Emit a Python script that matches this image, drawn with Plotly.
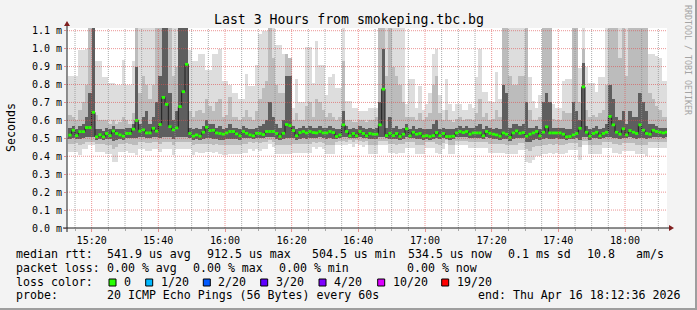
import plotly.graph_objects as go
import pandas as pd

# ---------------- data (values in milliseconds) ----------------
first_step = "2026-04-16 15:13:00"
range_start = "2026-04-16 15:12:36"
range_end = "2026-04-16 18:12:36"

med = [0.518, 0.545, 0.515, 0.537, 0.537, 0.56, 0.56, 0.645, 0.508, 0.52,
       0.508, 0.527, 0.515, 0.541, 0.527, 0.519, 0.512, 0.527, 0.527, 0.551,
       0.60, 0.54, 0.547, 0.53, 0.53, 0.556, 0.54, 0.577, 0.728, 0.689,
       0.565, 0.547, 0.558, 0.677, 0.76, 0.9125, 0.527, 0.512, 0.519, 0.512,
       0.534, 0.562, 0.543, 0.545, 0.53, 0.527, 0.523, 0.53, 0.538, 0.538,
       0.525, 0.514, 0.538, 0.528, 0.519, 0.514, 0.528, 0.527, 0.521, 0.538,
       0.538, 0.538, 0.527, 0.51, 0.528, 0.577, 0.571, 0.543, 0.514, 0.532,
       0.538, 0.53, 0.538, 0.532, 0.53, 0.538, 0.53, 0.53, 0.538, 0.532,
       0.51, 0.519, 0.575, 0.538, 0.514, 0.527, 0.514, 0.538, 0.527, 0.514,
       0.527, 0.523, 0.523, 0.575, 0.774, 0.515, 0.528, 0.515, 0.527, 0.51,
       0.523, 0.553, 0.514, 0.534, 0.523, 0.527, 0.512, 0.515, 0.51, 0.515,
       0.532, 0.515, 0.527, 0.51, 0.51, 0.512, 0.53, 0.538, 0.532, 0.538,
       0.523, 0.53, 0.53, 0.53, 0.514, 0.538, 0.528, 0.523, 0.519, 0.512,
       0.53, 0.523, 0.5045, 0.53, 0.541, 0.528, 0.532, 0.512, 0.523, 0.53,
       0.538, 0.514, 0.534, 0.564, 0.53, 0.53, 0.53, 0.53, 0.523, 0.508,
       0.51, 0.519, 0.527, 0.556, 0.787, 0.534, 0.512, 0.527, 0.534, 0.514,
       0.527, 0.534, 0.622, 0.575, 0.534, 0.523, 0.553, 0.519, 0.543, 0.534,
       0.527, 0.575, 0.545, 0.527, 0.523, 0.545, 0.538, 0.534, 0.53, 0.5345]

# outer smoke band (fastest / slowest ping)
hi = [0.85, 0.85, 0.85, 0.99, 0.99, 1.0, 1.2, 1.2, 0.93, 0.93,
      0.84, 0.84, 0.81, 0.81, 0.80, 0.80, 0.935, 0.80, 0.80, 0.93,
      1.2, 1.2, 1.2, 1.2, 1.2, 1.2, 1.2, 1.2, 1.2, 1.2,
      1.2, 1.2, 1.2, 1.2, 1.2, 1.2, 0.99, 0.93, 0.93, 0.97,
      0.97, 0.88, 0.88, 0.97, 0.97, 1.0, 0.82, 0.82, 0.80, 0.75,
      0.75, 0.72, 0.72, 0.86, 0.79, 0.79, 0.91, 1.08, 1.1, 1.1,
      1.2, 1.2, 1.02, 1.02, 0.97, 0.97, 0.95, 0.67, 0.83, 0.70,
      0.70, 1.01, 1.01, 0.81, 1.04, 0.91, 0.91, 0.74, 0.84, 0.86,
      0.78, 0.78, 1.2, 0.71, 0.71, 0.67, 0.67, 0.65, 0.65, 0.65,
      0.67, 0.67, 0.67, 1.2, 1.2, 1.2, 1.2, 1.2, 1.2, 1.2,
      1.2, 0.69, 0.83, 0.83, 0.67, 0.79, 0.66, 0.69, 0.75, 0.97,
      1.0, 0.74, 0.66, 0.83, 0.69, 0.65, 0.69, 0.69, 0.66, 0.66,
      0.69, 0.67, 0.84, 1.0, 0.76, 0.76, 0.71, 0.70, 0.87, 0.72,
      1.2, 1.2, 1.2, 1.2, 1.2, 1.2, 1.2, 1.2, 0.84, 0.71,
      0.67, 0.74, 1.2, 1.2, 1.2, 0.69, 0.67, 0.67, 0.82, 0.83,
      0.83, 1.2, 1.2, 0.89, 1.2, 0.90, 0.81, 0.81, 0.76, 0.84,
      0.84, 1.2, 1.2, 1.2, 1.2, 1.2, 1.2, 1.2, 1.2, 1.2,
      1.2, 1.2, 1.2, 1.2, 0.97, 0.97, 0.96, 0.95, 0.82, 0.82]

lo = [0.425, 0.425, 0.425, 0.405, 0.44, 0.44, 0.46, 0.46, 0.425, 0.425,
      0.425, 0.415, 0.415, 0.37, 0.37, 0.425, 0.425, 0.43, 0.42, 0.42,
      0.405, 0.44, 0.44, 0.43, 0.43, 0.44, 0.44, 0.425, 0.44, 0.44,
      0.44, 0.405, 0.44, 0.44, 0.44, 0.44, 0.44, 0.405, 0.425, 0.42,
      0.42, 0.425, 0.425, 0.42, 0.425, 0.415, 0.405, 0.405, 0.415, 0.41,
      0.415, 0.415, 0.42, 0.42, 0.44, 0.43, 0.44, 0.43, 0.44, 0.44,
      0.47, 0.45, 0.41, 0.41, 0.41, 0.41, 0.41, 0.42, 0.42, 0.42,
      0.42, 0.42, 0.42, 0.45, 0.44, 0.45, 0.44, 0.41, 0.41, 0.41,
      0.46, 0.46, 0.46, 0.46, 0.47, 0.45, 0.47, 0.46, 0.45, 0.46,
      0.41, 0.41, 0.41, 0.46, 0.46, 0.46, 0.42, 0.42, 0.41, 0.42,
      0.42, 0.445, 0.445, 0.445, 0.41, 0.41, 0.41, 0.445, 0.445, 0.445,
      0.42, 0.41, 0.44, 0.47, 0.41, 0.41, 0.46, 0.46, 0.46, 0.46,
      0.445, 0.445, 0.445, 0.445, 0.445, 0.445, 0.42, 0.42, 0.42, 0.42,
      0.42, 0.41, 0.41, 0.41, 0.41, 0.435, 0.435, 0.37, 0.36, 0.38,
      0.40, 0.40, 0.415, 0.41, 0.42, 0.41, 0.42, 0.41, 0.415, 0.42,
      0.435, 0.435, 0.435, 0.38, 0.465, 0.465, 0.41, 0.41, 0.41, 0.41,
      0.445, 0.445, 0.445, 0.42, 0.42, 0.415, 0.43, 0.43, 0.43, 0.43,
      0.41, 0.41, 0.41, 0.40, 0.445, 0.445, 0.445, 0.445, 0.445, 0.445]

# middle smoke band
mhi = [0.63, 0.62, 0.60, 0.66, 0.70, 0.80, 1.2, 1.2, 0.63, 0.60,
       0.60, 0.60, 0.58, 0.60, 0.58, 0.59, 0.62, 0.60, 0.58, 0.64,
       1.2, 0.75, 0.85, 0.80, 0.72, 0.80, 1.2, 1.2, 1.2, 1.2,
       1.2, 0.85, 0.90, 1.2, 1.2, 1.2, 0.65, 0.62, 0.65, 0.66,
       0.64, 0.72, 0.68, 0.65, 0.70, 0.72, 0.62, 0.63, 0.73, 0.62,
       0.62, 0.60, 0.62, 0.66, 0.62, 0.60, 0.65, 0.72, 0.78, 0.82,
       1.2, 0.95, 0.80, 0.75, 0.75, 0.97, 0.95, 0.60, 0.64, 0.60,
       0.60, 0.68, 0.70, 0.62, 0.72, 0.70, 0.66, 0.62, 0.64, 0.62,
       0.60, 0.62, 0.93, 0.60, 0.60, 0.59, 0.59, 0.60, 0.60, 0.59,
       0.60, 0.60, 0.62, 1.2, 1.2, 0.85, 1.2, 0.90, 0.85, 0.80,
       0.70, 0.62, 0.62, 0.62, 0.60, 0.64, 0.60, 0.62, 0.64, 0.80,
       0.85, 0.64, 0.60, 0.66, 0.60, 0.59, 0.61, 0.62, 0.60, 0.61,
       0.61, 0.60, 0.64, 0.72, 0.62, 0.64, 0.60, 0.61, 0.66, 0.62,
       1.2, 1.2, 0.85, 0.80, 0.80, 0.85, 0.85, 1.2, 0.66, 0.60,
       0.60, 0.62, 1.2, 1.2, 1.2, 0.61, 0.60, 0.60, 0.65, 0.64,
       0.64, 1.2, 1.2, 0.70, 1.0, 0.66, 0.62, 0.63, 0.62, 0.64,
       0.66, 0.80, 1.2, 1.2, 1.2, 0.95, 1.2, 0.85, 1.2, 1.2,
       1.2, 1.2, 1.2, 1.2, 0.75, 0.72, 0.68, 0.66, 0.62, 0.62]

mlo = [0.47, 0.47, 0.475, 0.46, 0.47, 0.48, 0.48, 0.48, 0.47, 0.47,
       0.47, 0.465, 0.465, 0.44, 0.45, 0.47, 0.47, 0.475, 0.47, 0.465,
       0.46, 0.48, 0.48, 0.475, 0.475, 0.48, 0.48, 0.47, 0.48, 0.48,
       0.48, 0.46, 0.48, 0.48, 0.48, 0.48, 0.48, 0.46, 0.47, 0.47,
       0.47, 0.47, 0.47, 0.465, 0.47, 0.46, 0.46, 0.46, 0.465, 0.46,
       0.465, 0.465, 0.47, 0.47, 0.48, 0.475, 0.48, 0.475, 0.48, 0.48,
       0.49, 0.48, 0.465, 0.46, 0.465, 0.46, 0.465, 0.47, 0.47, 0.47,
       0.47, 0.47, 0.47, 0.48, 0.475, 0.48, 0.475, 0.465, 0.465, 0.465,
       0.48, 0.485, 0.485, 0.48, 0.49, 0.48, 0.49, 0.485, 0.48, 0.485,
       0.465, 0.465, 0.465, 0.485, 0.485, 0.485, 0.47, 0.47, 0.465, 0.47,
       0.47, 0.48, 0.48, 0.48, 0.465, 0.465, 0.465, 0.48, 0.48, 0.48,
       0.47, 0.465, 0.475, 0.49, 0.465, 0.465, 0.485, 0.485, 0.485, 0.485,
       0.48, 0.48, 0.48, 0.48, 0.48, 0.48, 0.47, 0.47, 0.47, 0.47,
       0.47, 0.465, 0.465, 0.465, 0.465, 0.475, 0.475, 0.44, 0.43, 0.45,
       0.455, 0.455, 0.465, 0.46, 0.47, 0.465, 0.47, 0.465, 0.465, 0.47,
       0.475, 0.475, 0.475, 0.45, 0.485, 0.485, 0.465, 0.465, 0.465, 0.465,
       0.48, 0.48, 0.48, 0.47, 0.47, 0.465, 0.475, 0.475, 0.475, 0.475,
       0.465, 0.465, 0.465, 0.46, 0.48, 0.48, 0.48, 0.48, 0.48, 0.48]

# inner (darkest) smoke band around the median
dhi = [0.56, 0.57, 0.55, 0.57, 0.58, 0.62, 0.75, 1.2, 0.55, 0.55,
       0.54, 0.56, 0.55, 0.57, 0.55, 0.55, 0.55, 0.56, 0.56, 0.58,
       0.90, 0.58, 0.62, 0.65, 0.58, 0.62, 0.70, 0.85, 1.2, 1.2,
       0.75, 0.60, 0.65, 1.2, 1.2, 1.2, 0.56, 0.55, 0.56, 0.55,
       0.57, 0.60, 0.58, 0.58, 0.56, 0.57, 0.55, 0.56, 0.58, 0.56,
       0.56, 0.55, 0.57, 0.56, 0.55, 0.55, 0.56, 0.57, 0.58, 0.60,
       0.70, 0.62, 0.58, 0.56, 0.60, 0.85, 0.85, 0.57, 0.55, 0.56,
       0.57, 0.56, 0.57, 0.56, 0.56, 0.57, 0.56, 0.56, 0.57, 0.56,
       0.55, 0.55, 0.65, 0.57, 0.55, 0.56, 0.55, 0.57, 0.56, 0.55,
       0.56, 0.55, 0.56, 0.70, 1.0, 0.56, 0.62, 0.56, 0.57, 0.55,
       0.56, 0.58, 0.55, 0.57, 0.55, 0.56, 0.55, 0.55, 0.55, 0.58,
       0.60, 0.55, 0.56, 0.55, 0.55, 0.55, 0.56, 0.57, 0.56, 0.57,
       0.56, 0.56, 0.57, 0.58, 0.55, 0.57, 0.56, 0.55, 0.56, 0.55,
       0.80, 0.75, 0.56, 0.58, 0.58, 0.57, 0.58, 0.70, 0.56, 0.56,
       0.57, 0.55, 0.70, 0.75, 0.70, 0.56, 0.56, 0.56, 0.56, 0.55,
       0.55, 0.70, 0.65, 0.60, 0.92, 0.57, 0.55, 0.56, 0.57, 0.55,
       0.56, 0.58, 0.80, 0.72, 0.62, 0.60, 0.65, 0.58, 0.65, 0.62,
       0.62, 0.75, 0.70, 0.65, 0.58, 0.58, 0.57, 0.56, 0.56, 0.56]

dlo = [0.495, 0.50, 0.495, 0.495, 0.50, 0.505, 0.505, 0.505, 0.49, 0.495,
       0.49, 0.495, 0.495, 0.485, 0.49, 0.495, 0.49, 0.50, 0.50, 0.50,
       0.50, 0.505, 0.505, 0.50, 0.50, 0.505, 0.505, 0.50, 0.505, 0.505,
       0.505, 0.495, 0.505, 0.505, 0.505, 0.505, 0.50, 0.49, 0.495, 0.49,
       0.495, 0.50, 0.50, 0.495, 0.495, 0.49, 0.49, 0.495, 0.495, 0.495,
       0.495, 0.49, 0.50, 0.50, 0.50, 0.495, 0.50, 0.50, 0.50, 0.505,
       0.51, 0.505, 0.495, 0.49, 0.495, 0.50, 0.50, 0.50, 0.49, 0.495,
       0.50, 0.495, 0.50, 0.50, 0.50, 0.505, 0.50, 0.495, 0.50, 0.495,
       0.495, 0.50, 0.505, 0.505, 0.50, 0.50, 0.50, 0.505, 0.50, 0.50,
       0.495, 0.495, 0.495, 0.505, 0.505, 0.50, 0.495, 0.495, 0.495, 0.49,
       0.495, 0.505, 0.50, 0.50, 0.495, 0.495, 0.49, 0.495, 0.49, 0.495,
       0.50, 0.495, 0.50, 0.495, 0.49, 0.495, 0.505, 0.505, 0.505, 0.505,
       0.50, 0.50, 0.50, 0.50, 0.495, 0.505, 0.50, 0.495, 0.495, 0.49,
       0.495, 0.495, 0.485, 0.495, 0.50, 0.50, 0.50, 0.48, 0.48, 0.49,
       0.495, 0.49, 0.495, 0.50, 0.495, 0.495, 0.50, 0.495, 0.495, 0.49,
       0.495, 0.495, 0.50, 0.49, 0.505, 0.505, 0.49, 0.50, 0.50, 0.495,
       0.50, 0.505, 0.505, 0.50, 0.50, 0.495, 0.50, 0.50, 0.505, 0.50,
       0.495, 0.50, 0.50, 0.495, 0.50, 0.505, 0.505, 0.505, 0.50, 0.505]

x_tick_times = ["15:20", "15:40", "16:00", "16:20", "16:40", "17:00", "17:20", "17:40", "18:00"]
y_tick_values = [0.0, 0.1, 0.2, 0.3, 0.4, 0.5, 0.6, 0.7, 0.8, 0.9, 1.0, 1.1]
y_tick_labels = ["0.0 m", "0.1 m", "0.2 m", "0.3 m", "0.4 m", "0.5 m", "0.6 m",
                 "0.7 m", "0.8 m", "0.9 m", "1.0 m", "1.1 m"]
loss_labels = ["0", "1/20", "2/20", "3/20", "4/20", "10/20", "19/20"]
loss_colors = ["#26ff00", "#00b8ff", "#0059ff", "#5e00ff", "#7e00ff", "#dd00ff", "#ff0000"]

title_text = "Last 3 Hours from smokeping.tbc.bg"
stat_rtt = ["541.9 us avg", "912.5 us max", "504.5 us min", "534.5 us now",
            "0.1 ms sd", "10.8", "am/s"]
stat_loss = ["0.00 % avg", "0.00 % max", "0.00 % min", "0.00 % now"]
probe_text = "20 ICMP Echo Pings (56 Bytes) every 60s"
end_text = "end: Thu Apr 16 18:12:36 2026"

# ---------------- geometry / style ----------------
W, H = 697, 310
L, T, PW, PH = 67, 28, 600, 200
YMAX = 1.115
MONO = "DejaVu Sans Mono"
GRID = "rgba(143,143,143,0.75)"
MGRID = "rgba(222,79,79,0.6)"
ARROW = "#801f1f"
AXIS = "#1f1f1f"


def px(x):
    return (x - L) / PW


def py(y):
    return (T + PH - y) / PH


day = "2026-04-16 "
t0 = pd.Timestamp(first_step)
n = len(med)
starts = [t0 + pd.Timedelta(minutes=k) for k in range(n)]
centers = [s + pd.Timedelta(seconds=30) for s in starts]
step_end = starts[-1] + pd.Timedelta(minutes=1)

fig = go.Figure()


def band(lows, highs, color):
    return go.Bar(x=centers, y=[h - l for l, h in zip(lows, highs)], base=lows,
                  width=60000, marker=dict(color=color, line=dict(width=0)),
                  hoverinfo="skip", showlegend=False)


fig.add_trace(band(lo, hi, "#dddddd"))
fig.add_trace(band(mlo, mhi, "#bcbcbc"))
fig.add_trace(band(dlo, dhi, "#5e5e5e"))

# dark median step line
fig.add_trace(go.Scatter(x=starts + [step_end], y=med + [med[-1]], mode="lines",
                         line=dict(color="#202020", width=1, shape="hv"),
                         hoverinfo="skip", showlegend=False))
# green median marks (loss colour 0)
gx, gy = [], []
for s, m in zip(starts, med):
    gx += [s, s + pd.Timedelta(minutes=1), None]
    gy += [m, m, None]
fig.add_trace(go.Scatter(x=gx, y=gy, mode="lines", connectgaps=False,
                         line=dict(color=loss_colors[0], width=2.8),
                         hoverinfo="skip", showlegend=False))

shapes = []
# minor vertical grid every 5 minutes
major_ts = [pd.Timestamp(day + t) for t in x_tick_times]
minor_ts = []
tt = pd.Timestamp(day + "15:15")
while tt <= pd.Timestamp(range_end):
    if tt not in major_ts:
        minor_ts.append(tt)
    tt += pd.Timedelta(minutes=5)
for m in minor_ts:
    shapes.append(dict(type="line", xref="x", yref="paper", x0=m, x1=m, y0=0, y1=1,
                       line=dict(color=GRID, width=1, dash="1px,1px"), layer="above"))
for m in major_ts:
    shapes.append(dict(type="line", xref="x", yref="paper", x0=m, x1=m, y0=0, y1=1,
                       line=dict(color=MGRID, width=1, dash="1px,1px"), layer="above"))
for v in y_tick_values[1:]:
    shapes.append(dict(type="line", xref="paper", yref="y", x0=0, x1=1, y0=v, y1=v,
                       line=dict(color=MGRID, width=1, dash="1px,1px"), layer="above"))

# axes with arrows
shapes.append(dict(type="line", xref="paper", yref="paper", x0=px(L - 4), x1=px(L + PW + 4),
                   y0=py(T + PH), y1=py(T + PH), line=dict(color=AXIS, width=1), layer="above"))
shapes.append(dict(type="line", xref="paper", yref="paper", x0=px(L), x1=px(L),
                   y0=py(T + PH + 4), y1=py(T - 4), line=dict(color=AXIS, width=1), layer="above"))
xa, ya = L + PW, T + PH
shapes.append(dict(type="path", xref="paper", yref="paper", layer="above",
                   path=f"M {px(xa+2)} {py(ya-3)} L {px(xa+2)} {py(ya+3)} L {px(xa+7)} {py(ya)} Z",
                   fillcolor=ARROW, line=dict(width=0)))
shapes.append(dict(type="path", xref="paper", yref="paper", layer="above",
                   path=f"M {px(L-3)} {py(T-2)} L {px(L+3)} {py(T-2)} L {px(L)} {py(T-7)} Z",
                   fillcolor=ARROW, line=dict(width=0)))

# frame shading (bottom / right)
shapes.append(dict(type="rect", xref="paper", yref="paper", x0=px(0), x1=px(W), y0=py(H),
                   y1=py(H - 2), fillcolor="#9e9e9e", line=dict(width=0)))
shapes.append(dict(type="rect", xref="paper", yref="paper", x0=px(W - 2), x1=px(W), y0=py(H),
                   y1=py(0), fillcolor="#9e9e9e", line=dict(width=0)))

annotations = []


def txt(x, y, s, size=11.6, anchor="left", color="#000000", angle=0):
    annotations.append(dict(xref="paper", yref="paper", x=px(x), y=py(y), text=s,
                            showarrow=False, xanchor=anchor, yanchor="middle",
                            textangle=angle, borderpad=0, borderwidth=0,
                            font=dict(family=MONO, size=size, color=color)))


txt(W / 2, 19.5, title_text, size=13.2, anchor="center")
txt(11, T + PH / 2, "Seconds", size=11.6, anchor="center", angle=-90)
txt(688, 60, "RRDTOOL / TOBI OETIKER", size=8.3, anchor="center", color="#a4a4a4", angle=90)

y1, y2, y3, y4 = 254.3, 267.7, 281.7, 295.3
txt(16, y1, "median rtt:")
for xp, s in zip([107.3, 207.3, 311.7, 407.7, 507.7, 586.7, 635.7], stat_rtt):
    txt(xp, y1, s)
txt(16, y2, "packet loss:")
for xp, s in zip([107.3, 193.3, 279.3, 406.7], stat_loss):
    txt(xp, y2, s)
txt(16, y3, "loss color:")
box_x = [109, 145.7, 203.3, 260.7, 319, 377.7, 441.7]
for bx, lab, col in zip(box_x, loss_labels, loss_colors):
    shapes.append(dict(type="rect", xref="paper", yref="paper", x0=px(bx), x1=px(bx + 7),
                       y0=py(286), y1=py(279), fillcolor=col, line=dict(color="#000000", width=1)))
    txt(bx + 15, y3, lab)
txt(16, y4, "probe:")
txt(107.3, y4, probe_text)
txt(478.3, y4, end_text)

fig.update_layout(
    width=W, height=H,
    margin=dict(l=L, r=W - L - PW, t=T, b=H - T - PH, pad=0),
    paper_bgcolor="#f3f3f3", plot_bgcolor="#ffffff",
    barmode="overlay", bargap=0, showlegend=False,
    font=dict(family=MONO, color="#000000"),
    shapes=shapes, annotations=annotations,
    xaxis=dict(type="date", range=[range_start, range_end], tickmode="array",
               tickvals=major_ts, ticktext=x_tick_times, showgrid=False, zeroline=False,
               showline=False, ticks="outside", ticklen=3, tickcolor=MGRID,
               tickfont=dict(family=MONO, size=10, color="#000000"),
               minor=dict(tickmode="array", tickvals=minor_ts, ticks="outside",
                          ticklen=2, tickcolor=GRID, showgrid=False),
               fixedrange=True),
    yaxis=dict(range=[0, YMAX], tickmode="array", tickvals=y_tick_values,
               ticktext=y_tick_labels, showgrid=False, zeroline=False, showline=False,
               ticks="outside", ticklen=2, tickcolor=MGRID,
               tickfont=dict(family=MONO, size=10, color="#000000"), fixedrange=True),
)

fig.write_html("out.html")
